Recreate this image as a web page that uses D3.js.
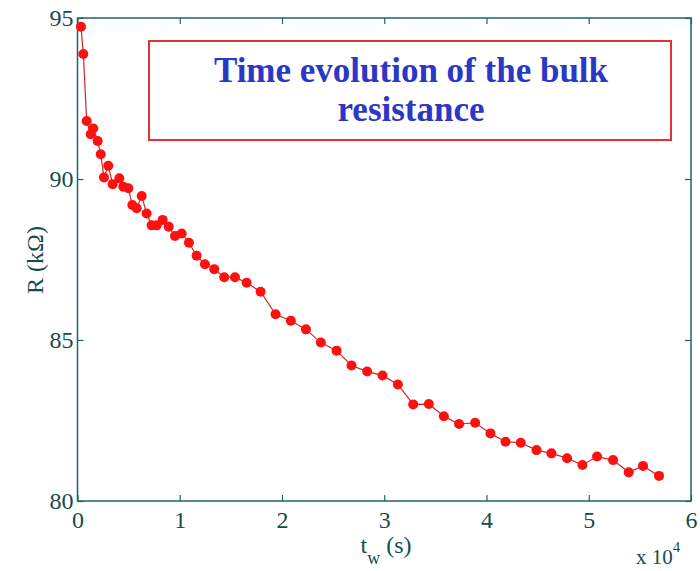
<!DOCTYPE html>
<html>
<head>
<meta charset="utf-8">
<script src="https://cdn.jsdelivr.net/npm/d3@7"></script>
<style>
  body { margin: 0; background: #fff; }
  svg { display: block; }
</style>
</head>
<body>
<div id="chart"></div>
<script>
// data (time in units of 1e4 s, R in kOhm)
var tw = [0.034, 0.057, 0.090, 0.129, 0.154, 0.197, 0.227, 0.259, 0.301, 0.344, 0.409, 0.448, 0.497,
  0.536, 0.579, 0.628, 0.676, 0.725, 0.774, 0.833, 0.892, 0.953, 1.019, 1.090, 1.165, 1.246,
  1.337, 1.435, 1.540, 1.654, 1.791, 1.937, 2.087, 2.234, 2.380, 2.534, 2.680, 2.833, 2.983,
  3.133, 3.283, 3.436, 3.583, 3.732, 3.889, 4.039, 4.186, 4.335, 4.489, 4.635, 4.788, 4.938,
  5.081, 5.238, 5.391, 5.531, 5.687];
var resistance = [94.73, 93.88, 91.80, 91.39, 91.57, 91.18, 90.77, 90.05, 90.41, 89.84, 90.02, 89.76, 89.71,
  89.19, 89.09, 89.47, 88.93, 88.56, 88.56, 88.73, 88.52, 88.23, 88.31, 88.02, 87.62, 87.35,
  87.20, 86.95, 86.95, 86.78, 86.50, 85.80, 85.60, 85.33, 84.92, 84.67, 84.21, 84.02, 83.90,
  83.62, 83.00, 83.01, 82.63, 82.39, 82.43, 82.10, 81.84, 81.81, 81.58, 81.48, 81.33, 81.12,
  81.38, 81.27, 80.89, 81.09, 80.78];
var xTicks = [0, 1, 2, 3, 4, 5, 6];
var yTicks = [80, 85, 90, 95];
var titleLines = ["Time evolution of the bulk", "resistance"];

var W = 700, H = 571;
var margin = {top: 18, right: 9, bottom: 70, left: 77.5};
var width = W - margin.left - margin.right,
    height = H - margin.top - margin.bottom;

var axisColor = "#1f6464", textColor = "#174c4c";

var svg = d3.select("#chart").append("svg")
    .attr("width", W).attr("height", H)
    .style("font-family", "'Liberation Serif', 'Times New Roman', serif");

svg.append("rect").attr("width", W).attr("height", H).attr("fill", "#fff");

var g = svg.append("g")
    .attr("transform", "translate(" + margin.left + "," + margin.top + ")");

var x = d3.scaleLinear().domain([0, 6]).range([0, width]);
var y = d3.scaleLinear().domain([80, 95]).range([height, 0]);

// axes with inward ticks on all four sides
function styleAxis(sel, hideText) {
  sel.select(".domain").remove();
  sel.selectAll(".tick line").attr("stroke", axisColor).attr("stroke-width", 1.2);
  sel.selectAll(".tick text").attr("fill", textColor).style("font-size", "24px")
    .style("font-family", "'Liberation Serif', serif");
  if (hideText) sel.selectAll(".tick text").remove();
}

g.append("g").attr("transform", "translate(0," + height + ")")
  .call(d3.axisBottom(x).tickValues(xTicks).tickSize(-6).tickPadding(10).tickFormat(d3.format("d")))
  .call(styleAxis, false);
g.append("g")
  .call(d3.axisTop(x).tickValues(xTicks).tickSize(-6))
  .call(styleAxis, true);
g.append("g")
  .call(d3.axisLeft(y).tickValues(yTicks).tickSize(-6).tickPadding(4).tickFormat(d3.format("d")))
  .call(styleAxis, false);
g.append("g").attr("transform", "translate(" + width + ",0)")
  .call(d3.axisRight(y).tickValues(yTicks).tickSize(-6))
  .call(styleAxis, true);

g.append("rect")
  .attr("width", width).attr("height", height)
  .attr("fill", "none").attr("stroke", axisColor).attr("stroke-width", 1.5);

// data
var pts = tw.map(function (d, i) { return [d, resistance[i]]; });
var line = d3.line().x(function (d) { return x(d[0]); }).y(function (d) { return y(d[1]); });

g.append("path").datum(pts)
  .attr("d", line)
  .attr("fill", "none")
  .attr("stroke", "#d42424")
  .attr("stroke-width", 1.2);

g.selectAll(".dot").data(pts).enter().append("circle")
  .attr("class", "dot")
  .attr("cx", function (d) { return x(d[0]); })
  .attr("cy", function (d) { return y(d[1]); })
  .attr("r", 5)
  .attr("fill", "#ff1010");

// title box
svg.append("rect")
  .attr("x", 149).attr("y", 41).attr("width", 522).attr("height", 99)
  .attr("fill", "#fff").attr("stroke", "#e03434").attr("stroke-width", 2);

svg.selectAll(".title").data(titleLines).enter().append("text")
  .attr("class", "title")
  .attr("x", 411)
  .attr("y", function (d, i) { return 82 + i * 38.5; })
  .attr("text-anchor", "middle")
  .attr("fill", "#2b37c6")
  .style("font-size", "35px")
  .style("font-weight", "bold")
  .text(function (d) { return d; });

// axis labels
var xl = svg.append("text")
  .attr("x", 386).attr("y", 553)
  .attr("text-anchor", "middle")
  .attr("fill", textColor)
  .style("font-size", "24px");
xl.append("tspan").text("t");
xl.append("tspan").attr("dy", 11).style("font-size", "18px").text("w");
xl.append("tspan").attr("dy", -11).text(" (s)");

svg.append("text")
  .attr("transform", "translate(43,260) rotate(-90)")
  .attr("text-anchor", "middle")
  .attr("fill", textColor)
  .style("font-size", "24px")
  .text("R (k\u03A9)");

var ex = svg.append("text")
  .attr("x", 636).attr("y", 564)
  .attr("fill", textColor)
  .style("font-size", "21px");
ex.append("tspan").text("x 10");
ex.append("tspan").attr("dy", -12).style("font-size", "15px").text("4");
</script>
</body>
</html>
